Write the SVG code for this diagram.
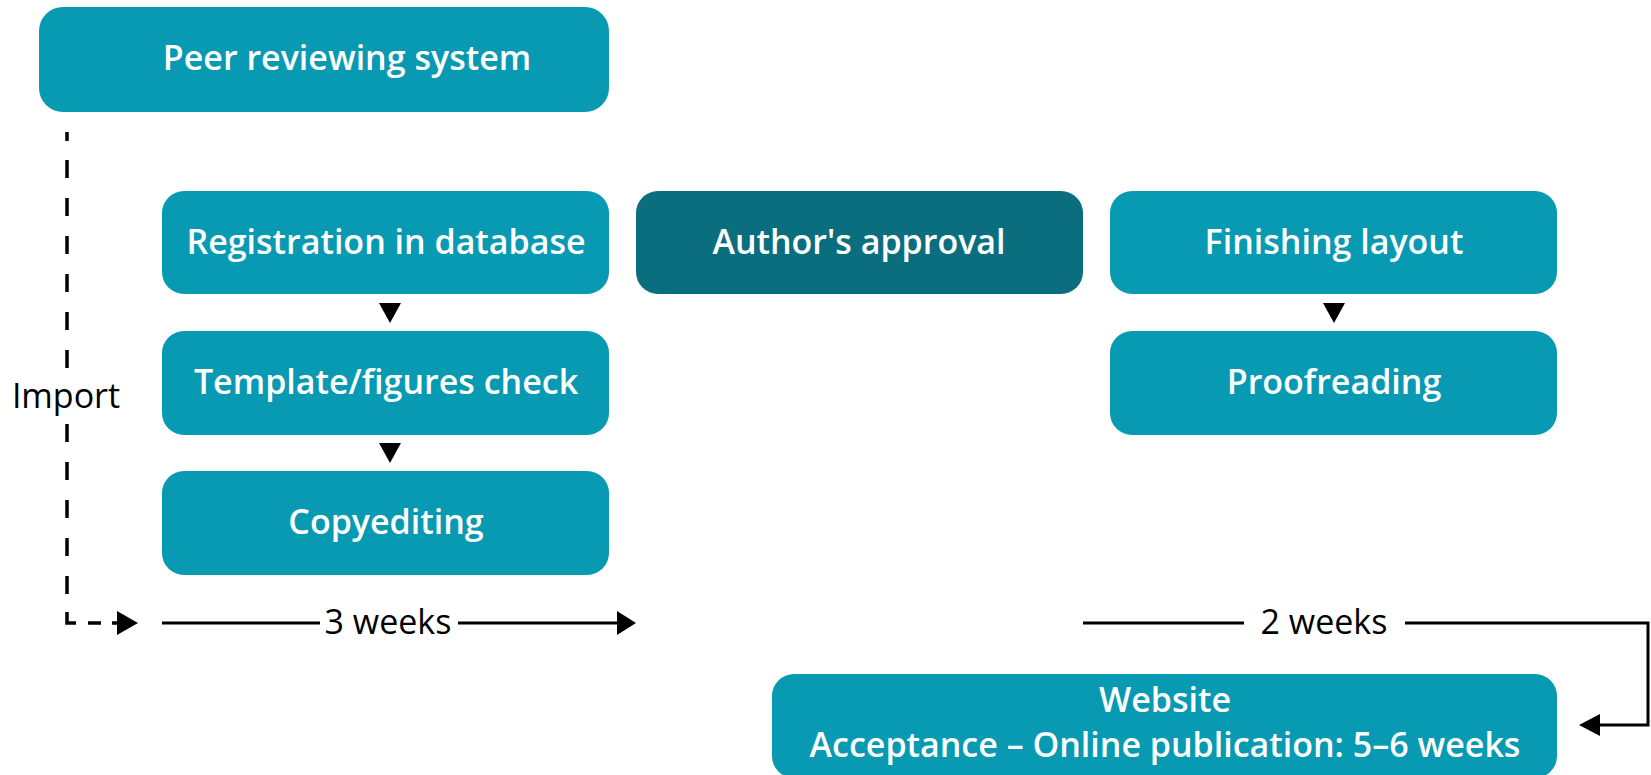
<svg xmlns="http://www.w3.org/2000/svg" width="1651" height="775" viewBox="0 0 1651 775">
<style>
.box{fill:#079ab2;}
.dark{fill:#0b6e7f;}
.lbl{font-family:"Open Sans","Noto Sans",sans-serif;font-weight:600;font-size:34px;fill:#ffffff;text-anchor:middle;}
.blk{font-family:"Open Sans","Noto Sans",sans-serif;font-weight:500;font-size:34px;fill:#000000;text-anchor:middle;}
.ln{stroke:#000;stroke-width:3;fill:none;}
.dash{stroke:#000;stroke-width:3.5;fill:none;}
.tri{fill:#000;}
</style>
<rect width="1651" height="775" fill="#ffffff"/>
<g id="peer"><rect class="box" x="39" y="7" width="570" height="105" rx="24"/><text class="lbl" x="347" y="70">Peer reviewing system</text></g>
<g id="registration"><rect class="box" x="162" y="191" width="447" height="103" rx="22"/><text class="lbl" x="386" y="254">Registration in database</text></g>
<g id="template"><rect class="box" x="162" y="331" width="447" height="104" rx="22"/><text class="lbl" x="386" y="394">Template/figures check</text></g>
<g id="copyediting"><rect class="box" x="162" y="471" width="447" height="104" rx="22"/><text class="lbl" x="386" y="534">Copyediting</text></g>
<g id="author"><rect class="dark" x="636" y="191" width="447" height="103" rx="22"/><text class="lbl" x="859" y="254">Author's approval</text></g>
<g id="finishing"><rect class="box" x="1110" y="191" width="447" height="103" rx="22"/><text class="lbl" x="1334" y="254">Finishing layout</text></g>
<g id="proofreading"><rect class="box" x="1110" y="331" width="447" height="104" rx="22"/><text class="lbl" x="1334" y="394">Proofreading</text></g>
<g id="website"><rect class="box" x="772" y="674" width="785" height="104" rx="22"/><text class="lbl" x="1165" y="712">Website</text><text class="lbl" x="1165" y="757">Acceptance – Online publication: 5–6 weeks</text></g>
<g id="connectors">
<polygon class="tri" points="379,303 401,303 390,323"/>
<polygon class="tri" points="379,443 401,443 390,463"/>
<polygon class="tri" points="1323,303 1345,303 1334,323"/>
<path class="dash" d="M67,132 V141 M67,160 V178 M67,198 V216 M67,236 V254 M67,274 V292 M67,312 V330 M67,350 V368 M67,424 V442 M67,462 V480 M67,500 V518 M67,538 V556 M67,576 V594 M67,612 V623 H76 M88,623 H101 M112,623 H120"/>
<polygon class="tri" points="117,611 138,623 117,635"/>
<text class="blk" x="66" y="408">Import</text>
<path class="ln" d="M162,623 H320"/>
<path class="ln" d="M458,623 H620"/>
<polygon class="tri" points="617,611 636,623 617,635"/>
<text class="blk" x="388" y="634">3 weeks</text>
<path class="ln" d="M1083,623 H1244"/>
<path class="ln" d="M1405,623 H1648 V725 H1598"/>
<polygon class="tri" points="1600,714 1579,725 1600,736"/>
<text class="blk" x="1324" y="634">2 weeks</text>
</g>
</svg>
